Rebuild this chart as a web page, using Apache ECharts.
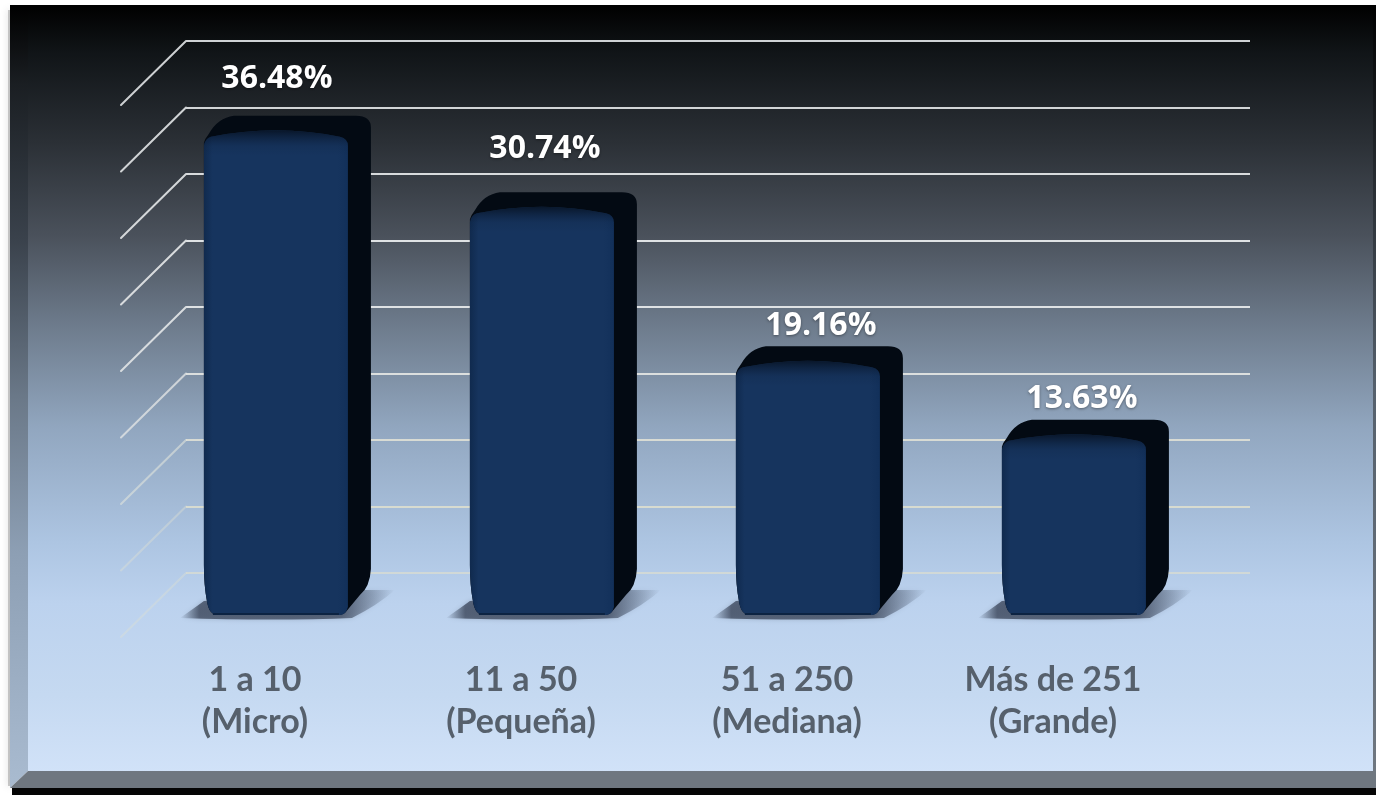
<!DOCTYPE html>
<html><head><meta charset="utf-8">
<style>html,body{margin:0;padding:0;background:#fff}#c{width:1376px;height:795px}</style>
<script src="https://cdn.jsdelivr.net/npm/echarts@6/dist/echarts.min.js"></script>
</head><body><div id="c"></div>
<script>
const categories = ['1 a 10\n(Micro)', '11 a 50\n(Pequeña)', '51 a 250\n(Mediana)', 'Más de 251\n(Grande)'];
const shares = [36.48, 30.74, 19.16, 13.63];
const valueLabels = ['36.48%', '30.74%', '19.16%', '13.63%'];
const yTicks = [0, 5, 10, 15, 20, 25, 30, 35, 40];
const gridColors = ['rgba(232,228,200,0.55)', 'rgba(232,230,205,0.75)', 'rgba(228,228,215,0.85)', 'rgba(226,228,226,0.95)', '#dfe2e4', '#dfe2e4', '#d8dbdd', '#d2d5d7', '#cfd2d4'];
const slantColors = ['rgba(225,225,205,0.35)', 'rgba(225,225,210,0.4)', 'rgba(225,228,220,0.6)', 'rgba(225,228,228,0.8)', '#d8dcdf', '#d8dbdd', '#d4d7d9', '#d0d3d5', '#cdd0d2'];
const labelNudge = [[1, -60], [3, -66], [13, -43], [8, -44]];

const chart = echarts.init(document.getElementById('c'), null, {renderer: 'canvas', width: 1376, height: 795});
const lin = (x, y, x2, y2, stops) => new echarts.graphic.LinearGradient(x, y, x2, y2, stops.map(s => ({offset: s[0], color: s[1]})));

function slantItem(params, api) {
  const p = api.coord([0, api.value(1)]);
  const left = params.coordSys.x;
  return {type: 'line', z2: 1,
    shape: {x1: left, y1: p[1], x2: left - 65, y2: p[1] + 64},
    style: {stroke: slantColors[params.dataIndex], lineWidth: 2, lineCap: 'round'}};
}

function barItem(params, api) {
  const i = params.dataIndex;
  const top = api.coord([i, api.value(1)]);
  const base = api.coord([i, 0]);
  const band = api.size([1, 0])[0];
  const cx = top[0] - band * 0.162;
  const L = cx - 72, R = cx + 72, T = top[1] + 51, B = base[1] + 42;
  const d = 23;
  const sil = `M${L} ${T+4} Q${L+1} ${T} ${L+5} ${T-5} Q${L+14} ${T-d+2} ${L+30} ${T-d} L${R+8} ${T-d} Q${R+d} ${T-d} ${R+d} ${T-d+12}`
    + ` L${R+d} ${B-46} Q${R+d-1} ${B-28} ${R+12} ${B-20} L${R-3} ${B-2} Q${R-6} ${B} ${R-10} ${B} L${L+14} ${B} Q${L+5} ${B} ${L+3} ${B-14} Q${L} ${B-30} ${L} ${B-50} Z`;
  const front = `M${L} ${T+7} Q${L+1} ${T} ${L+7} ${T-2} Q${cx} ${T-15} ${R-8} ${T-2} Q${R} ${T} ${R} ${T+7} L${R} ${B-8} Q${R-2} ${B} ${R-8} ${B}`
    + ` L${L+14} ${B} Q${L+5} ${B} ${L+3} ${B-14} Q${L} ${B-30} ${L} ${B-50} Z`;
  const shadow = `M${L-24} ${B+3} Q${L-8} ${B-8} ${L} ${B-14} L${R} ${B-24} L${R+13} ${B-25} L${R+47} ${B-25} Q${R+30} ${B-10} ${R+4} ${B+3} Q${cx} ${B+6} ${L-24} ${B+3} Z`;
  const fade = 16 / (B - T + 9);
  return {type: 'group', z2: 5, children: [
    {type: 'path', shape: {pathData: shadow}, style: {
      fill: lin(0, 0, 1, 0, [[0, 'rgba(60,72,92,0)'], [0.09, 'rgba(50,60,80,0.7)'], [0.75, 'rgba(50,60,80,0.7)'], [1, 'rgba(60,72,92,0)']]),
      shadowBlur: 5, shadowColor: 'rgba(60,72,92,0.35)'}},
    {type: 'path', shape: {pathData: sil}, style: {fill: '#030a13'}},
    {type: 'path', shape: {pathData: front}, style: {
      fill: lin(0, 0, 1, 0, [[0, '#102a4e'], [0.06, '#16345e'], [0.93, '#16345e'], [1, '#12305a']])}},
    {type: 'path', shape: {pathData: front}, style: {
      fill: lin(0, 0, 0, 1, [[0, 'rgba(4,12,24,0.75)'], [fade, 'rgba(10,26,50,0.12)'], [fade * 1.6, 'rgba(10,26,50,0)'], [1, 'rgba(10,26,50,0)']])}},
    {type: 'rect', shape: {x: L + 9, y: B - 2, width: R - L - 18, height: 2}, style: {fill: '#0c2342'}},
    {type: 'text', z2: 10, style: {
      x: cx + labelNudge[i][0], y: T + labelNudge[i][1], text: valueLabels[i],
      align: 'center', verticalAlign: 'middle',
      font: 'bold 32px "Open Sans", sans-serif', fill: '#ffffff',
      textShadowBlur: 3, textShadowColor: 'rgba(0,0,0,0.4)', textShadowOffsetY: 1}}
  ]};
}

chart.setOption({
  animation: false,
  backgroundColor: '#ffffff',
  grid: {left: 186, right: 126, top: 41, bottom: 222},
  graphic: {elements: [
    {type: 'rect', z: -20, shape: {x: 8, y: 10, width: 4, height: 776}, style: {fill: 'rgba(150,150,150,0.5)', shadowBlur: 7, shadowColor: 'rgba(130,130,130,0.6)'}},
    {type: 'rect', z: -19, shape: {x: 28, y: 5, width: 1345, height: 767},
      style: {fill: lin(0, 0, 0, 1, [[0, '#000000'], [0.06, '#101417'], [0.18, '#2b3036'], [0.3, '#4a515b'], [0.42, '#6e7c8d'], [0.55, '#91a6bf'], [0.7, '#adc5e2'], [0.78, '#bcd2ee'], [0.9, '#c5d9f1'], [1, '#d1e2f8']])}},
    {type: 'polygon', z: -18, shape: {points: [[10, 5], [28, 5], [28, 771], [10, 788]]},
      style: {fill: lin(0, 0, 0, 1, [[0, '#000000'], [0.1, '#1a1e22'], [0.3, '#3a424c'], [0.5, '#6a7888'], [0.7, '#8d9fb4'], [1, '#a9bbd0']])}},
    {type: 'polygon', z: -18, shape: {points: [[10, 788], [28, 771], [1376, 771], [1376, 788]]}, style: {fill: '#6f7780'}},
    {type: 'rect', z: -18, shape: {x: 12, y: 788, width: 1364, height: 7}, style: {fill: '#050505'}},
    {type: 'rect', z: -18, shape: {x: 1373, y: 5, width: 3, height: 766}, style: {fill: lin(0, 0, 0, 1, [[0, '#000000'], [0.5, '#55606c'], [1, '#6f7780']])}}
  ]},
  xAxis: {type: 'category', data: categories,
    axisLine: {show: false}, axisTick: {show: false},
    axisLabel: {interval: 0, margin: 86, padding: [0, 128, 0, 0], lineHeight: 42,
      fontFamily: 'Lato, sans-serif', fontWeight: 'bold', fontSize: 34, color: '#56606c'}},
  yAxis: {type: 'value', min: 0, max: 40, interval: 5,
    axisLine: {show: false}, axisTick: {show: false}, axisLabel: {show: false},
    splitLine: {show: true, lineStyle: {color: gridColors, width: 2}}},
  series: [
    {type: 'custom', name: 'slants', coordinateSystem: 'cartesian2d', silent: true, z: 1,
      data: yTicks.map(t => [0, t]), encode: {x: 0, y: 1}, renderItem: slantItem},
    {type: 'custom', name: 'shares', coordinateSystem: 'cartesian2d', silent: true, z: 3,
      data: shares.map((v, i) => [i, v]), encode: {x: 0, y: 1}, renderItem: barItem}
  ]
});
</script></body></html>
